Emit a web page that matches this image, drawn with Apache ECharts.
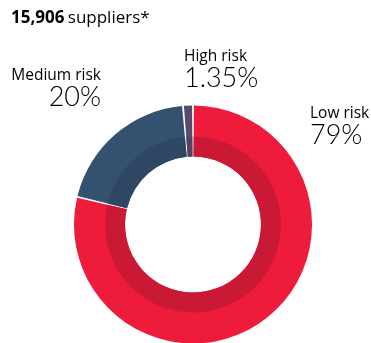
<!DOCTYPE html>
<html>
<head>
<meta charset="utf-8">
<script src="https://cdn.jsdelivr.net/npm/echarts@6/dist/echarts.min.js"></script>
<style>
  html, body { margin: 0; padding: 0; background: #ffffff; }
  #chart { width: 371px; height: 343px; }
</style>
</head>
<body>
<div id="chart"></div>
<script>
// Supplier risk split
const categories = ['Low risk', 'Medium risk', 'High risk'];
const shares = [79, 20, 1.35];
const shareLabels = ['79%', '20%', '1.35%'];
const supplierCount = '15,906';

const outerColors = ['#ee1b3b', '#34516f', '#5b4a6f'];
const innerColors = ['#c91935', '#2e4863', '#52435f'];

const chart = echarts.init(document.getElementById('chart'), null, { renderer: 'canvas' });

function pieData(colors) {
  return categories.map((name, i) => ({
    name: name,
    value: shares[i],
    itemStyle: { color: colors[i] }
  }));
}

const labelPos = [
  { x: 310, y: 106, align: 'left' },   // Low risk
  { x: 101, y: 68, align: 'right' },   // Medium risk
  { x: 184, y: 49, align: 'left' }     // High risk
];

const textColor = '#6d6e71';
const nameFont = '"Open Sans", sans-serif';
const valueFont = 'Lato, sans-serif';

const labelGraphics = categories.map((name, i) => ({
  type: 'text',
  left: labelPos[i].align === 'left' ? labelPos[i].x : null,
  right: labelPos[i].align === 'right' ? 371 - labelPos[i].x : null,
  top: labelPos[i].y,
  style: {
    text: '{n|' + name + '}\n{v|' + shareLabels[i] + '}',
    align: labelPos[i].align,
    rich: {
      n: { fontSize: 15.5, fontFamily: nameFont, color: textColor, lineHeight: 17, align: labelPos[i].align },
      v: { fontSize: 27, fontWeight: 300, fontFamily: valueFont, color: textColor, lineHeight: 25, align: labelPos[i].align }
    }
  }
}));

const pieBase = {
  type: 'pie',
  center: [193, 224.5],
  startAngle: 90,
  clockwise: true,
  silent: true,
  padAngle: 0.9,
  label: { show: false },
  labelLine: { show: false }
};

chart.setOption({
  animation: false,
  graphic: [
    {
      type: 'text',
      left: 11,
      top: 10,
      style: {
        text: '{b|' + supplierCount + '} {r|suppliers*}',
        rich: {
          b: { fontSize: 17, fontWeight: 'bold', fontFamily: nameFont, color: '#707173' },
          r: { fontSize: 17, fontFamily: nameFont, color: textColor }
        }
      }
    }
  ].concat(labelGraphics),
  series: [
    Object.assign({}, pieBase, { radius: [68, 119], data: pieData(outerColors) }),
    Object.assign({}, pieBase, { radius: [68, 88], data: pieData(innerColors) })
  ]
});
</script>
</body>
</html>
